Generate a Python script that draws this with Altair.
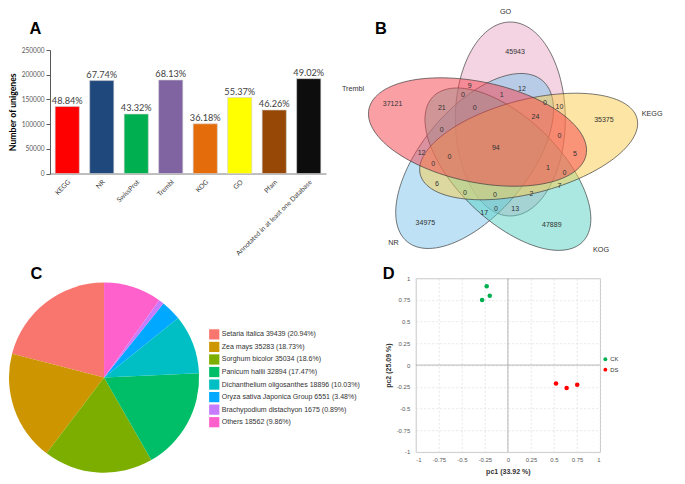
import math
import altair as alt
import pandas as pd

S = 0.965  # overall layout scale so the whole figure fits the window

# ---------------- Panel A data ----------------
db_names = ["KEGG", "NR", "SwissProt", "Trembl", "KOG", "GO", "Pfam",
            "Annotated in at least one Database"]
db_counts = [135600, 188100, 120300, 189200, 100500, 153800, 128500, 192000]
db_pct = ["48.84%", "67.74%", "43.32%", "68.13%", "36.18%", "55.37%", "46.26%", "49.02%"]
db_colors = ["#FF0000", "#1F497D", "#00B050", "#8064A2", "#E46C0A", "#FFFF00", "#974706", "#0D0D0D"]
a_ticks = [0, 50000, 100000, 150000, 200000, 250000]

# ---------------- Panel B data ----------------
venn_sets = ["GO", "NR", "KOG", "KEGG", "Trembl"]
venn_cx = [525, 488, 522.5, 544, 491]
venn_cy = [115.5, 159, 167.5, 144, 129]
venn_a = [100.5, 109, 108, 116, 115]
venn_b = [57, 55, 53, 48.5, 52]
venn_ang = [90, -50, 44, -14.5, 12]
venn_fill = ["#E9A9C5", "#7DC3EB", "#55D1C3", "#FBCD4B", "#F5414B"]

venn_num_text = ["45943", "37121", "35375", "34975", "47889", "9", "12", "0", "1", "21", "0",
                 "0", "10", "24", "0", "0", "94", "12", "5", "0", "0", "1", "0", "6", "7",
                 "0", "0", "2", "17", "0", "13"]
venn_num_x = [530, 403, 622, 437, 568, 483, 537, 476, 516, 454, 488,
              561, 576, 551, 454, 576, 510, 433, 592, 445, 462, 564, 581, 449, 576,
              478, 509, 547, 498, 510, 530]
venn_num_y = [46, 100, 117, 223, 225, 81, 84, 91, 91, 104, 104,
              99, 103, 113, 127, 133, 146, 151, 152, 162, 155, 166, 171, 183, 185,
              192, 194, 193, 213, 209, 209]
venn_name_text = ["GO", "Trembl", "KEGG", "NR", "KOG"]
venn_name_x = [520, 362, 672, 404, 619]
venn_name_y = [5, 84, 110, 244, 251]

# ---------------- Panel C data ----------------
species = ["Setaria italica", "Zea mays", "Sorghum bicolor", "Panicum hallii",
           "Dichanthelium oligosanthes", "Oryza sativa Japonica Group",
           "Brachypodium distachyon", "Others"]
species_n = [39439, 35283, 35034, 32894, 18896, 6551, 1675, 18562]
species_pct = ["20.94%", "18.73%", "18.6%", "17.47%", "10.03%", "3.48%", "0.89%", "9.86%"]
species_colors = ["#F8766D", "#CD9600", "#7CAE00", "#00BE67", "#00BFC4", "#00A9FF", "#C77CFF", "#FF61CC"]

# ---------------- Panel D data ----------------
pca_group = ["CK", "CK", "CK", "DS", "DS", "DS"]
pca_pc1 = [-0.28, -0.23, -0.197, 0.522, 0.637, 0.752]
pca_pc2 = [0.748, 0.908, 0.797, -0.211, -0.263, -0.226]
pca_colors = ["#00B050", "#FF0000"]
d_ticks = [-1, -0.75, -0.5, -0.25, 0, 0.25, 0.5, 0.75, 1]

FONT = "Liberation Sans"

# layout (reference pixel units)
A_X0, A_X1, A_Y0, A_Y1 = 48, 334, 44, 172
D_X0, D_X1, D_Y0, D_Y1 = 427, 618, 280, 460
COL_W1 = A_X1 - A_X0
COL_W2 = D_X1 - D_X0
ROW_H1 = A_Y1 - A_Y0
ROW_H2 = D_Y1 - D_Y0


def letter(txt, dx, dy):
    return alt.Chart(pd.DataFrame({"t": [txt]})).mark_text(
        font=FONT, fontSize=17 * S, fontWeight="bold", color="#000000",
        align="center", baseline="middle"
    ).encode(text="t:N", x=alt.value(dx * S), y=alt.value(dy * S))


# ================= Panel A =================
dfA = pd.DataFrame({"db": db_names, "n": db_counts, "pct": db_pct})
xA = alt.X("db:N", sort=db_names,
           scale=alt.Scale(paddingInner=0.3, paddingOuter=0.15),
           axis=alt.Axis(title=None, labelAngle=-45, labelFontSize=7 * S, labelColor="#404040",
                         labelFont="Lato", ticks=False, domainColor="#7f7f7f",
                         labelPadding=5, labelLimit=200, labelOverlap=False))
yA = alt.Y("n:Q", scale=alt.Scale(domain=[0, 250000], nice=False),
           axis=alt.Axis(values=a_ticks, tickCount=len(a_ticks), format="d",
                         title="Number of unigenes",
                         titleFont="Lato", titleFontSize=9 * S, titleFontWeight="bold",
                         titleColor="#000000", titlePadding=4, labelOverlap=False,
                         labelFont="Lato", labelFontSize=6.8 * S, labelColor="#595959",
                         grid=False, tickSize=4, tickColor="#595959", domainColor="#595959"))
barsA = alt.Chart(dfA).mark_bar(stroke="#d0d0d0", strokeWidth=0.6).encode(
    x=xA, y=yA,
    color=alt.Color("db:N", scale=alt.Scale(domain=db_names, range=db_colors), legend=None))
textA = alt.Chart(dfA).mark_text(font="Lato", fontSize=9.5 * S, color="#404040",
                                 baseline="bottom", dy=-1).encode(
    x=xA, y=yA, text="pct:N")
panelA = alt.layer(barsA, textA, letter("A", 33 - A_X0, 22 - A_Y0)).properties(
    width=COL_W1 * S, height=ROW_H1 * S)

# ================= Panel B =================


def ellipse_path(a, b, ang):
    th = math.radians(ang)
    pts = []
    for i in range(120):
        t = 2 * math.pi * i / 120
        x = a * math.cos(t) * math.cos(th) - b * math.sin(t) * math.sin(th)
        y = a * math.cos(t) * math.sin(th) + b * math.sin(t) * math.cos(th)
        pts.append(f"{x:.2f},{y:.2f}")
    return "M" + "L".join(pts) + "Z"


dfE = pd.DataFrame({
    "set": venn_sets, "cx": venn_cx, "cy": venn_cy,
    "path": [ellipse_path(a, b, g) for a, b, g in zip(venn_a, venn_b, venn_ang)],
    "ord": list(range(len(venn_sets))),
})
xB = alt.X("cx:Q", scale=alt.Scale(domain=[D_X0, D_X1], nice=False, zero=False), axis=None)
yB = alt.Y("cy:Q", scale=alt.Scale(domain=[A_Y0, A_Y1], nice=False, zero=False, reverse=True), axis=None)
ellipses = alt.Chart(dfE).mark_point(filled=True, opacity=1, fillOpacity=0.5,
                                     stroke="#3a3a3a", strokeWidth=0.8, strokeOpacity=0.85).encode(
    x=xB, y=yB,
    shape=alt.Shape("path:N", scale=None, legend=None),
    fill=alt.Fill("set:N", scale=alt.Scale(domain=venn_sets, range=venn_fill), legend=None),
    size=alt.value(4 * S * S),
    order=alt.Order("ord:Q"))
dfN = pd.DataFrame({"t": venn_num_text, "x": venn_num_x, "y": venn_num_y})
numsB = alt.Chart(dfN).mark_text(font=FONT, fontSize=7.3 * S, color="#333333").encode(
    x=alt.X("x:Q"), y=alt.Y("y:Q"), text="t:N")
dfNm = pd.DataFrame({"t": venn_name_text, "x": venn_name_x, "y": venn_name_y})
namesB = alt.Chart(dfNm).mark_text(font=FONT, fontSize=7.5 * S, color="#333333").encode(
    x=alt.X("x:Q"), y=alt.Y("y:Q"), text="t:N")
panelB = alt.layer(ellipses, numsB, namesB, letter("B", 391 - D_X0, 22 - A_Y0)).properties(
    width=COL_W2 * S, height=ROW_H1 * S)

# ================= Panel C =================
dfC = pd.DataFrame({
    "name": species,
    "n": species_n,
    "label": [f"{s} {n} ({p})" for s, n, p in zip(species, species_n, species_pct)],
    "ord": list(range(len(species)))[::-1],
})
legend_labels = list(dfC["label"])
pie = alt.Chart(dfC).mark_arc(radius=98.5 * S, stroke=None).encode(
    theta=alt.Theta("n:Q", stack=True),
    order=alt.Order("ord:Q", sort="ascending"),
    color=alt.Color("label:N", sort=legend_labels,
                    scale=alt.Scale(domain=legend_labels, range=species_colors),
                    legend=alt.Legend(orient="none", legendX=(212.5 - A_X0) * S,
                                      legendY=(332.5 - D_Y0) * S, title=None,
                                      symbolType="square", symbolSize=(10.6 * S) ** 2,
                                      symbolStrokeWidth=0, labelFont=FONT,
                                      labelFontSize=7.3 * S, labelColor="#333333",
                                      rowPadding=1.6 * S, labelOffset=2, padding=0,
                                      labelLimit=300)),
    x=alt.value((104 - A_X0) * S), y=alt.value((383 - D_Y0) * S))
panelC = alt.layer(pie, letter("C", 34 - A_X0, 276 - D_Y0)).properties(
    width=COL_W1 * S, height=ROW_H2 * S)

# ================= Panel D =================
dfD = pd.DataFrame({"grp": pca_group, "pc1": pca_pc1, "pc2": pca_pc2})


def d_axis(title, pad):
    return alt.Axis(values=d_ticks, tickCount=len(d_ticks), labelExpr="'' + datum.value",
                    title=title, titleFont=FONT, titleFontSize=7.3 * S, titleFontWeight="bold",
                    titleColor="#333333", titlePadding=5, labelOverlap=False,
                    labelFont=FONT, labelFontSize=6.2 * S, labelColor="#595959",
                    labelPadding=pad, ticks=False, domain=False,
                    grid=True, gridDash=[2, 2], gridColor="#dddddd", gridWidth=0.7)


xD = alt.X("pc1:Q", scale=alt.Scale(domain=[-1, 1], nice=False), axis=d_axis("pc1 (33.92 %)", 5))
yD = alt.Y("pc2:Q", scale=alt.Scale(domain=[-1, 1], nice=False), axis=d_axis("pc2 (25.09 %)", 6))
pts = alt.Chart(dfD).mark_circle(opacity=1, size=22 * S * S).encode(
    x=xD, y=yD,
    color=alt.Color("grp:N", scale=alt.Scale(domain=["CK", "DS"], range=pca_colors),
                    legend=alt.Legend(orient="none", legendX=(620.5 - D_X0) * S,
                                      legendY=(361 - D_Y0) * S, title=None,
                                      symbolType="circle", symbolSize=16 * S * S,
                                      symbolStrokeWidth=0, labelFont=FONT,
                                      labelFontSize=6 * S, labelColor="#333333",
                                      rowPadding=3.5 * S, labelOffset=2, padding=0)))
zero_v = alt.Chart(pd.DataFrame({"z": [0]})).mark_rule(color="#a6a6a6", strokeWidth=0.8).encode(
    x=alt.X("z:Q", axis=d_axis("pc1 (33.92 %)", 5)))
zero_h = alt.Chart(pd.DataFrame({"z": [0]})).mark_rule(color="#a6a6a6", strokeWidth=0.8).encode(
    y=alt.Y("z:Q", axis=d_axis("pc2 (25.09 %)", 6)))
panelD = alt.layer(pts, zero_v, zero_h, letter("D", 399 - D_X0, 276 - D_Y0)).properties(
    width=COL_W2 * S, height=ROW_H2 * S,
    view=alt.ViewBackground(stroke="#c8c8c8", strokeWidth=1))

chart = alt.concat(panelA, panelB, panelC, panelD, columns=2).properties(
    spacing={"row": (D_Y0 - A_Y1) * S, "column": (D_X0 - A_X1) * S},
    bounds="flush", padding=0, background="white"
).resolve_scale(
    color="independent", fill="independent", shape="independent"
).resolve_legend(color="independent").configure_view(stroke=None)

chart.save("out.html", embed_options={"renderer": "svg", "actions": False})
